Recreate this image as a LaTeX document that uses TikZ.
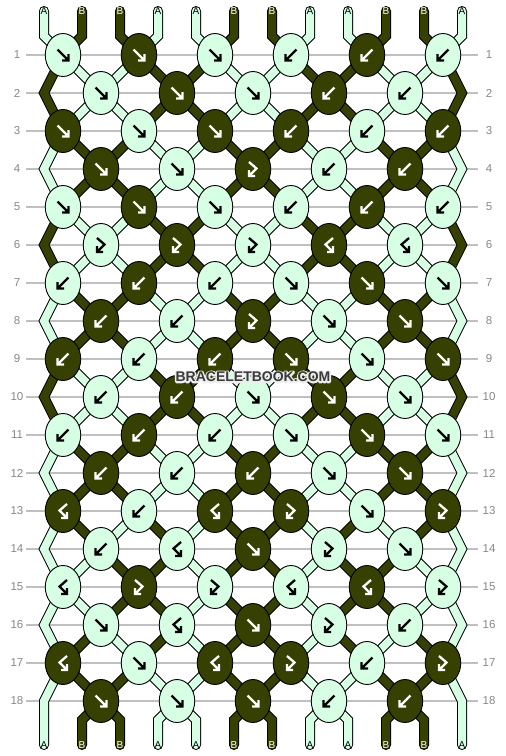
\documentclass[tikz,border=0pt]{standalone}
\usepackage{fontspec}
\setmainfont{Liberation Sans}
\usetikzlibrary{shapes.geometric}
\pgfdeclarelayer{back}
\pgfdeclarelayer{bg}
\pgfsetlayers{back,bg,main}
\definecolor{A}{RGB}{214,255,228}
\definecolor{B}{RGB}{54,64,0}
\colorlet{arrA}{black}
\colorlet{arrB}{white}
\colorlet{txtA}{black}
\colorlet{txtB}{white}
\definecolor{rowline}{RGB}{192,192,192}
\definecolor{rownum}{RGB}{136,136,136}
\definecolor{wmark}{RGB}{58,58,58}
\tikzset{
  knot/.style={ellipse, draw=black, line width=0.9pt, minimum width=35.5pt, minimum height=43pt, inner sep=0pt},
  glyph/.style={line width=2.3pt, line cap=butt, line join=miter},
  endlabel/.style={font=\fontsize{10}{12}\selectfont, inner sep=0pt},
  rowlab/.style={font=\fontsize{11.5}{13}\selectfont, text=rownum, inner sep=0pt},
  wmstyle/.style={font=\bfseries\fontsize{14}{16}\selectfont, inner sep=0pt},
}
\newcommand\glF[3]{\draw[glyph,draw=#3,shift={(#1,#2)}] (-5.5,-5.5) -- (5.5,5.5) (5.5,-1) -- (5.5,5.5) -- (-1,5.5);}
\newcommand\glB[3]{\draw[glyph,draw=#3,shift={(#1,#2)}] (5.5,-5.5) -- (-5.5,5.5) (-5.5,-1) -- (-5.5,5.5) -- (1,5.5);}
\newcommand\glFB[3]{\draw[glyph,draw=#3,shift={(#1,#2)}] (-4,-7) -- (3.5,-0.5) -- (-4,7) (-4,1) -- (-4,7) -- (2,7);}
\newcommand\glBF[3]{\draw[glyph,draw=#3,shift={(#1,#2)}] (4,-7) -- (-3.5,-0.5) -- (4,7) (4,1) -- (4,7) -- (-2,7);}
\newcommand\krow[2]{%
  \foreach \ty/\co [count=\k] in {#2} {%
    \pgfmathsetmacro\kx{63+38*(1-mod(#1,2))+76*(\k-1)}%
    \pgfmathsetmacro\ky{55+38*(#1-1)}%
    \node[knot,fill=\co] (n-#1-\k) at (\kx,\ky) {};
    \csname gl\ty\endcsname{\kx}{\ky}{arr\co}
  }}
\def\stP{A,B,B,A,A,B,B,A,A,B,B,A}
\def\stQ{B,A,A,B,B,A,A,B,B,A,A,B}
\def\stU{A,B,A,B,A,B,B,A,B,A,B,A}
\def\stV{A,A,B,B,A,B,B,A,B,B,A,A}
\newcommand\PN[2]{%
  \ifodd#1\relax
    \pgfmathtruncatemacro\tmpk{floor((#2+1)/2)}\edef\pn{n-#1-\tmpk}%
  \else
    \ifnum#2=1 \edef\pn{eL-#1}\else\ifnum#2=12 \edef\pn{eR-#1}\else
      \pgfmathtruncatemacro\tmpk{floor(#2/2)}\edef\pn{n-#1-\tmpk}\fi\fi
  \fi}
\newcommand\strings[1]{%
  \foreach \r/\st in {0/\stP,1/\stQ,2/\stQ,3/\stP,4/\stP,5/\stQ,6/\stQ,7/\stP,8/\stP,9/\stQ,10/\stQ,11/\stP,12/\stP,13/\stU,14/\stV,15/\stV,16/\stU,17/\stP,18/\stP}{%
    \edef\stlist{\st}%
    \foreach \c [count=\p] in \stlist {%
      \ifnum#1=0 \def\sc{black}\def\sw{10pt}\else\edef\sc{\c}\def\sw{8pt}\fi
      \ifnum\r=0
        \PN{1}{\p}\draw[draw=\sc,line width=\sw,line cap=round,line join=miter] (top-\p.center) -- (tb-\p) -- (\pn.center);
      \else\ifnum\r=18
        \ifnum\p=1 \else\ifnum\p=12 \else
          \PN{18}{\p}\draw[draw=\sc,line width=\sw,line cap=round,line join=miter] (\pn.center) -- (bb-\p) -- (bot-\p.center);
        \fi\fi
      \else
        \ifnum\p=1 \def\isedge{1}\else\ifnum\p=12 \def\isedge{1}\else\def\isedge{0}\fi\fi
        \ifnum\isedge=1
          \ifodd\r\relax
            \PN{\r}{\p}\let\pna\pn
            \pgfmathtruncatemacro\rb{\r+1}\PN{\rb}{\p}\let\pnb\pn
            \ifnum\r=17
              \draw[draw=\sc,line width=\sw,line cap=round,line join=miter] (\pna.center) -- (\pnb) -- (bot-\p.center);
            \else
              \pgfmathtruncatemacro\rc{\r+2}\PN{\rc}{\p}\let\pnc\pn
              \draw[draw=\sc,line width=\sw,line join=miter] (\pna.center) -- (\pnb) -- (\pnc.center);
            \fi
          \fi
        \else
          \PN{\r}{\p}\let\pna\pn
          \pgfmathtruncatemacro\rb{\r+1}\PN{\rb}{\p}%
          \draw[draw=\sc,line width=\sw] (\pna.center) -- (\pn.center);
        \fi
      \fi\fi
    }}}
\begin{document}
\begin{tikzpicture}[x=1pt,y=-1pt]
\path[use as bounding box] (0,0) rectangle (506,756);
\begin{pgfonlayer}{back}
\fill[white] (0,0) rectangle (506,756);
\end{pgfonlayer}
% row guide lines and numbers
\foreach \r in {1,...,18}{
  \pgfmathtruncatemacro\y{55+38*(\r-1)}
  \begin{pgfonlayer}{back}
  \draw[rowline,line width=1.3pt] (26,\y) -- (478,\y);
  \end{pgfonlayer}
  \node[rowlab] (ln-\r) at (17,\y) {\r};
  \node[rowlab] (rn-\r) at (489,\y) {\r};
}
% edge turning points
\foreach \r in {2,4,...,18}{
  \pgfmathtruncatemacro\y{55+38*(\r-1)}
  \coordinate (eL-\r) at (44,\y);
  \coordinate (eR-\r) at (462,\y);
}
% string ends
\foreach \c [count=\p] in \stP {
  \pgfmathtruncatemacro\xp{44+38*(\p-1)}
  \node[endlabel,text=txt\c] (top-\p) at (\xp,11) {\c};
  \coordinate (tb-\p) at (\xp,36);
  \coordinate (bb-\p) at (\xp,720);
  \node[endlabel,text=txt\c] (bot-\p) at (\xp,745) {\c};
}
% knots
\krow{1}{F/A,F/B,F/A,B/A,B/B,B/A}
\krow{2}{F/A,F/B,F/A,B/B,B/A}
\krow{3}{F/B,F/A,F/B,B/B,B/A,B/B}
\krow{4}{F/B,F/A,FB/B,B/A,B/B}
\krow{5}{F/A,F/B,F/A,B/A,B/B,B/A}
\krow{6}{FB/A,FB/B,FB/A,BF/B,BF/A}
\krow{7}{B/A,B/B,B/A,F/A,F/B,F/A}
\krow{8}{B/B,B/A,FB/B,F/A,F/B}
\krow{9}{B/B,B/A,B/B,F/B,F/A,F/B}
\krow{10}{B/A,B/B,F/A,F/B,F/A}
\krow{11}{B/A,B/B,B/A,F/A,F/B,F/A}
\krow{12}{B/B,B/A,B/B,F/A,F/B}
\krow{13}{BF/B,B/A,BF/B,FB/B,F/A,FB/B}
\krow{14}{B/A,BF/A,F/B,FB/A,F/A}
\krow{15}{BF/A,FB/B,FB/A,BF/A,BF/B,FB/A}
\krow{16}{F/A,BF/A,F/B,FB/A,B/A}
\krow{17}{BF/B,F/A,BF/B,FB/B,B/A,FB/B}
\krow{18}{F/B,F/A,F/B,B/A,B/B}
% strings
\begin{pgfonlayer}{bg}
\strings{0}
\strings{1}
\end{pgfonlayer}
% watermark with light halo
\node[wmstyle, text=white] (wmhalo) at (253,377) {\special{pdf:literal direct 1 Tr 3.2 w 0.93 0.93 0.93 RG 1 j}BRACELETBOOK.COM\special{pdf:literal direct 0 Tr}};
\node[wmstyle, text=wmark] (wm) at (253,377) {BRACELETBOOK.COM};
\end{tikzpicture}
\end{document}
